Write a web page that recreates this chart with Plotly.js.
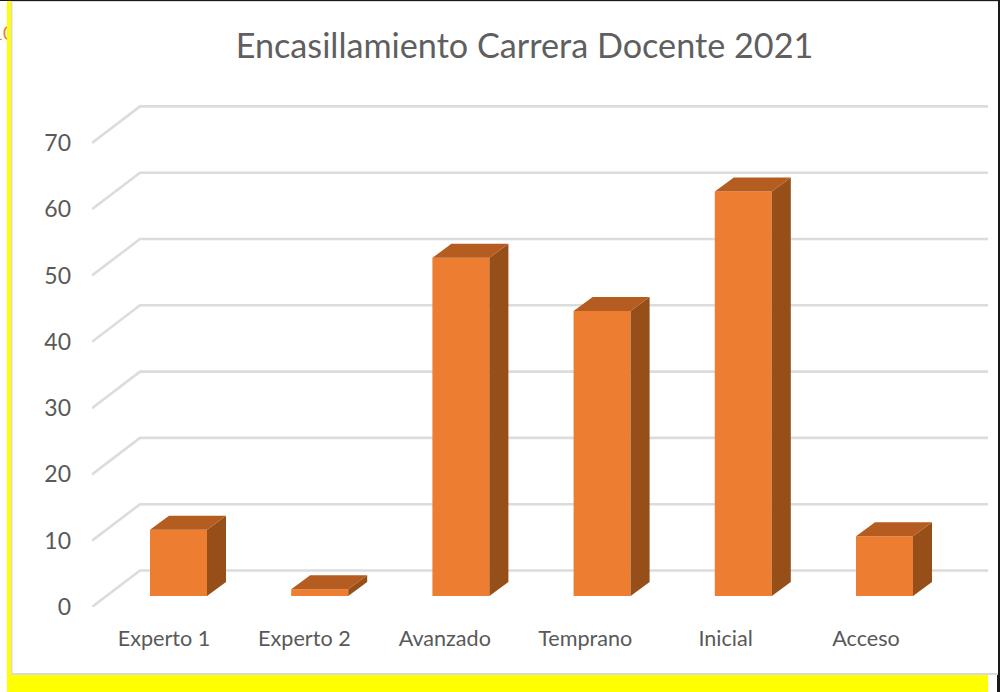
<!DOCTYPE html>
<html><head><meta charset="utf-8">
<script src="https://cdn.plot.ly/plotly-3.0.1.min.js"></script>
<style>html,body{margin:0;padding:0;background:#fff}#c{width:1000px;height:692px}
#clip{position:absolute;left:0;top:21px;width:7px;height:24px;overflow:hidden;z-index:5;font:19px Lato,sans-serif;color:#ED7D31;line-height:24px;white-space:nowrap}
#clip span{position:absolute;left:-8px;top:0}</style>
</head><body><div id="c"></div><div id="clip"><span>10</span></div>
<script>
const categories = ["Experto 1","Experto 2","Avanzado","Temprano","Inicial","Acceso"];
const values = [10,1,51,43,61,9];
const yTicks = [0,10,20,30,40,50,60,70];
const titleText = "Encasillamiento Carrera Docente 2021";

const W=1000,H=692;
const L=92,R=988,B=607,T=100;
const pxPerCat=141.2, labelPitch=140.4, pxPerVal=6.63;
const idx = categories.map((c,i)=>i);
const xr1=[(L-164)/labelPitch,(R-164)/labelPitch];
const xr2=[(L-178.5)/pxPerCat,(R-178.5)/pxPerCat];
const yr1=[0,(B-T)/pxPerVal];
const yr2=[-(B-596)/pxPerVal,(596-T)/pxPerVal];

const depthX=19/pxPerCat, depthY=14/pxPerVal, halfW=28.5/pxPerCat;
const wallX=48/labelPitch, wallY=36.5/pxPerVal;

const gx=[],gy=[];
yTicks.forEach(t=>{gx.push(xr1[0],xr1[0]+wallX,xr1[1],null);gy.push(t,t+wallY,t+wallY,null);});
const grid={type:'scatter',mode:'lines',x:gx,y:gy,xaxis:'x',yaxis:'y',line:{color:'#dcdcdc',width:2.6},hoverinfo:'skip',showlegend:false};

const bars={type:'bar',x:idx,y:values,width:2*halfW,xaxis:'x2',yaxis:'y2',marker:{color:'#ED7D31',line:{width:0}},text:categories,textposition:'none',showlegend:false};

function facePts(build){const xs=[],ys=[];idx.forEach(i=>{build(i,values[i]).forEach(p=>{xs.push(p[0]);ys.push(p[1]);});xs.push(null);ys.push(null);});return [xs,ys];}
const [tx,ty]=facePts((i,v)=>[[i-halfW,v],[i+halfW,v],[i+halfW+depthX,v+depthY],[i-halfW+depthX,v+depthY],[i-halfW,v]]);
const [sx,sy]=facePts((i,v)=>[[i+halfW,0],[i+halfW,v],[i+halfW+depthX,v+depthY],[i+halfW+depthX,depthY],[i+halfW,0]]);
const topFace={type:'scatter',mode:'lines',x:tx,y:ty,xaxis:'x2',yaxis:'y2',fill:'toself',fillcolor:'#B55D20',line:{width:0,color:'#B55D20'},hoverinfo:'skip',showlegend:false};
const sideFace={type:'scatter',mode:'lines',x:sx,y:sy,xaxis:'x2',yaxis:'y2',fill:'toself',fillcolor:'#974F1A',line:{width:0,color:'#974F1A'},hoverinfo:'skip',showlegend:false};

const pxX=p=>(p-L)/(R-L), pxY=p=>(B-p)/(B-T);
const rect=(x0,y0,x1,y1,c)=>({type:'rect',xref:'paper',yref:'paper',x0:pxX(x0),x1:pxX(x1),y0:pxY(y0),y1:pxY(y1),fillcolor:c,line:{width:0},layer:'above'});
const shapes=[
 rect(7,1,11,692,'#FFFF00'),
 rect(11,1,12.5,675,'#d9d9d9'),
 rect(7,675,988,692,'#FFFF00'),
 rect(11,673,998,675,'#d9d9d9'),
 rect(11,1,998,2,'#d9d9d9'),
 rect(0,0,1000,1,'#1a1a1a'),
 rect(998,0,1000,675,'#1a1a1a'),
 rect(997,675,1000,692,'#1a1a1a')
];

const font='Lato, Carlito, sans-serif';
const layout={
 width:W,height:H,autosize:false,showlegend:false,
 paper_bgcolor:'#fff',plot_bgcolor:'rgba(0,0,0,0)',
 margin:{l:L,r:W-R,t:T,b:H-B,pad:0},
 title:{text:titleText,font:{family:font,size:34.2,color:'#5f5f5f'},x:524.5/W,xanchor:'center',y:1-46/H,yanchor:'middle'},
 xaxis:{type:'linear',range:xr1,tickvals:idx,ticktext:categories,showgrid:false,zeroline:false,showline:false,ticks:'',ticklabelstandoff:16,tickfont:{family:font,size:21.6,color:'#595959'},fixedrange:true},
 yaxis:{type:'linear',range:yr1,tickvals:yTicks,showgrid:false,zeroline:false,showline:false,ticks:'',ticklabelstandoff:20,ticklabelshift:-2.5,tickfont:{family:font,size:23,color:'#595959'},fixedrange:true},
 xaxis2:{type:'linear',range:xr2,overlaying:'x',visible:false,fixedrange:true},
 yaxis2:{type:'linear',range:yr2,overlaying:'y',visible:false,fixedrange:true},
 shapes:shapes
};
Plotly.newPlot('c',[grid,bars,sideFace,topFace],layout,{displayModeBar:false,staticPlot:true});
</script></body></html>
